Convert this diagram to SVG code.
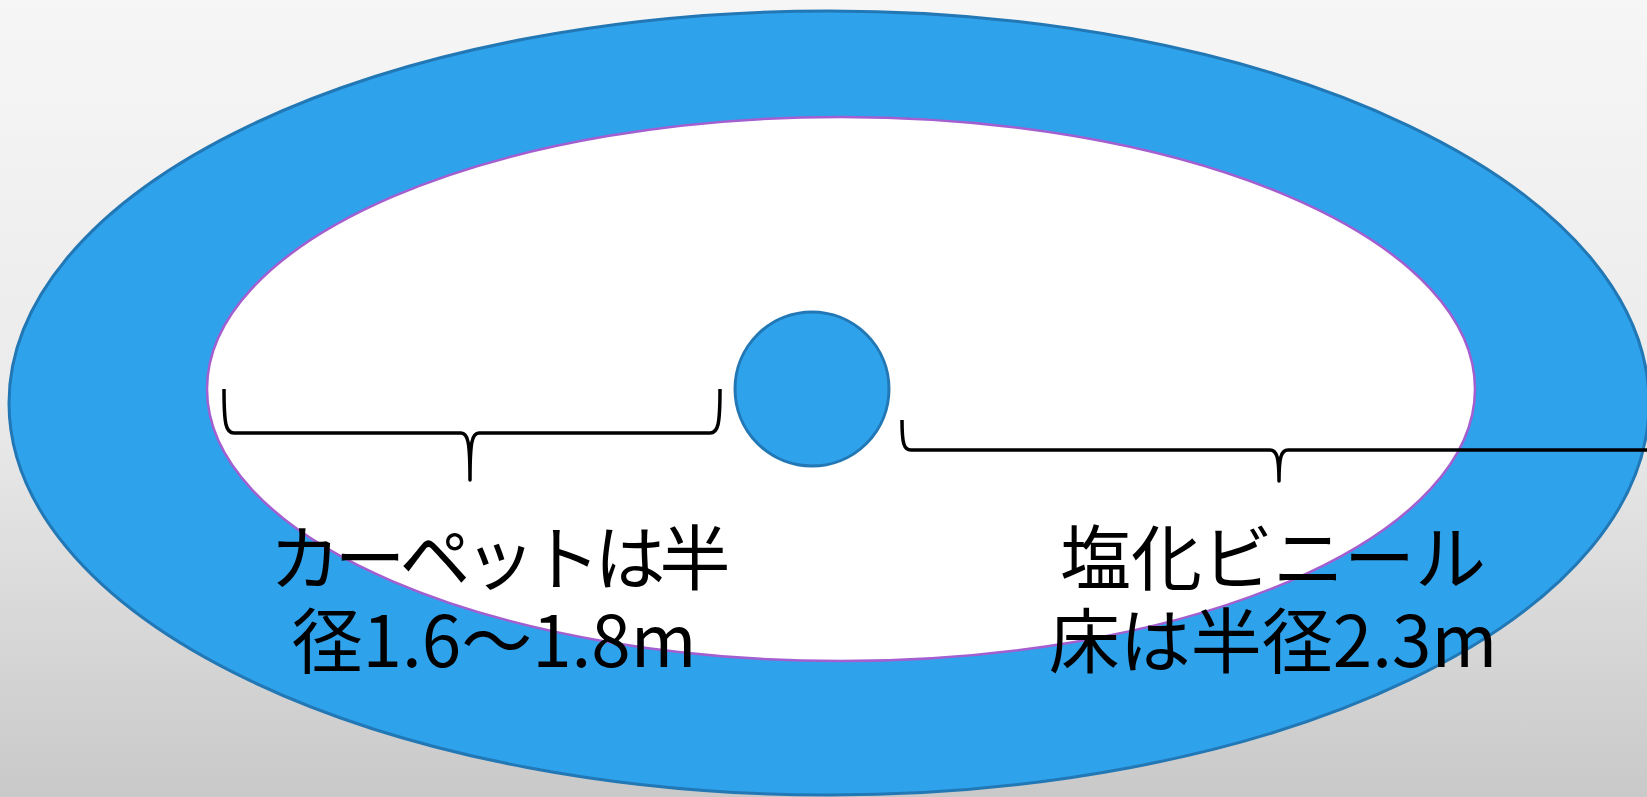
<svg xmlns="http://www.w3.org/2000/svg" width="1647" height="797" viewBox="0 0 1647 797">
<defs>
<linearGradient id="bg" x1="0" y1="0" x2="0" y2="1">
<stop offset="0" stop-color="#f6f6f6"/>
<stop offset="0.5" stop-color="#ebebeb"/>
<stop offset="1" stop-color="#c9c9c9"/>
</linearGradient>
<style>
.blue{fill:#2fa2ec;stroke:#2277b5;stroke-width:3}
.inner{fill:#ffffff;stroke:#a35ed0;stroke-width:2.5}
.brace{fill:none;stroke:#000;stroke-width:3.5;stroke-linejoin:round}
.lbl{font-family:"Noto Sans CJK JP","Noto Sans",sans-serif;font-size:71px;fill:#000;text-anchor:middle}
</style>
</defs>
<rect width="1647" height="797" fill="url(#bg)"/>
<g id="outer-floor"><ellipse class="blue" cx="829" cy="403" rx="820" ry="392"/></g>
<g id="carpet"><ellipse class="inner" cx="841" cy="389" rx="634" ry="272"/></g>
<g id="center"><circle class="blue" cx="812" cy="389" r="77"/></g>
<g id="connectors">
<path class="brace" d="M224,389 C224,425 226,433 234,433 L461,433 C468,433 470,442 470,480 C470,442 472,433 479,433 L710,433 C718,433 720,425 720,389"/>
<path class="brace" d="M902,420 C902,444 904,450 911,450 L1270,450 C1277,450 1279,458 1279,481 C1279,458 1281,450 1288,450 L1660,450"/>
</g>
<g id="label-carpet">
<text class="lbl" x="497" y="584" letter-spacing="-6">カーペットは半</text>
<text class="lbl" x="494" y="667">径1.6～1.8m</text>
</g>
<g id="label-vinyl">
<text class="lbl" x="1273" y="584">塩化ビニール</text>
<text class="lbl" x="1273" y="667">床は半径2.3m</text>
</g>
</svg>
